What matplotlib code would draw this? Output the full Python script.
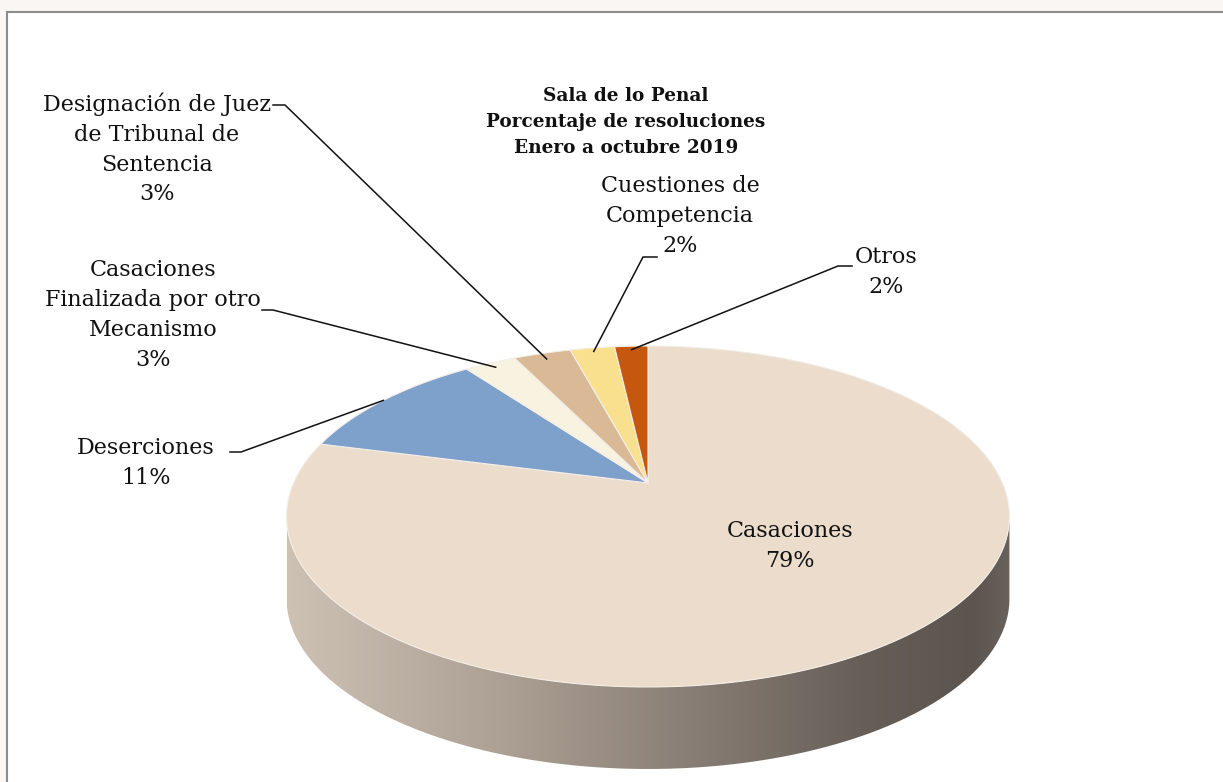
import numpy as np
import matplotlib.pyplot as plt
from matplotlib.patches import Polygon, Rectangle
from matplotlib.colors import LinearSegmentedColormap

# datos del gráfico
categorias = ["Casaciones", "Deserciones", "Casaciones\nFinalizada por otro\nMecanismo",
              "Designación de Juez\nde Tribunal de\nSentencia", "Cuestiones de\nCompetencia", "Otros"]
porcentajes = [79.0, 10.9, 2.8, 3.1, 2.4, 1.8]
colores = ["#ebdccb", "#7da1cb", "#f8f2e0", "#d9b996", "#f8e08e", "#c5570f"]
titulo = "Sala de lo Penal\nPorcentaje de resoluciones\nEnero a octubre 2019"

# geometría (pixeles)
W, H = 1223, 782
CX, CY = 648, 483          # vértice de las porciones
A, B, P = 354.4, 163.9, 0.1965   # semiejes y factor de perspectiva
DEPTH = 82

# posición de etiquetas y tramo horizontal de las líneas guía
pos_etiquetas = [(790, 546), (146, 463), (153, 315), (157, 149), (680, 216), (886, 272)]
guias = [None, [(230, 452), (241, 452)], [(262, 310), (273, 310)],
         [(273, 105), (285, 105)], [(657, 257), (643, 257)], [(852, 266), (838, 266)]]
radio_guia = [None, 1.0, 0.96, 0.95, 0.97, 0.97]

plt.rcParams['font.family'] = ['DejaVu Serif']


def proyectar(u, v):
    w = 1 + P * v
    return CX + A * u / w, CY - B * v / w


def punto(frac, r=1.0):
    th = 2 * np.pi * frac
    return proyectar(r * np.sin(th), r * np.cos(th))


fig = plt.figure(figsize=(W / 100, H / 100), dpi=100, facecolor="#f9f6f3")
ax = fig.add_axes([0, 0, 1, 1])
ax.set_facecolor("#f9f6f3")

# marco blanco
ax.add_patch(Rectangle((7, 12), W, H, facecolor="white", edgecolor="#8c8c8c", lw=1.5, zorder=0))

# lateral del cilindro (solo visible la parte frontal)
t1 = np.pi + np.arcsin(P)
t2 = 2 * np.pi - np.arcsin(P)
t = np.linspace(t1, t2, 300)
xs, ys = proyectar(np.cos(t), np.sin(t))
lado = np.column_stack([np.concatenate([xs, xs[::-1]]),
                        np.concatenate([ys, ys[::-1] + DEPTH])])
poly = Polygon(lado, closed=True, facecolor="none", edgecolor="none")
ax.add_patch(poly)
cmap = LinearSegmentedColormap.from_list("lado", [(0, "#cdc1b4"), (0.3, "#aca094"), (0.55, "#8a7f76"),
                                                  (0.8, "#665e57"), (0.95, "#5c554f"), (1, "#69615b")])
grad = np.linspace(0, 1, 512)[None, :]
img = ax.imshow(grad, cmap=cmap, extent=[xs.min(), xs.max(), ys.max() + DEPTH, ys.min()],
                aspect="auto", zorder=1)
img.set_clip_path(poly)

# porciones superiores
fr = np.array(porcentajes) / sum(porcentajes)
acum = np.concatenate([[0], np.cumsum(fr)])
for i, col in enumerate(colores):
    f = np.linspace(acum[i], acum[i + 1], 200)
    px, py = punto(f)
    verts = np.column_stack([np.concatenate([[CX], px]), np.concatenate([[CY], py])])
    ax.add_patch(Polygon(verts, closed=True, facecolor=col, edgecolor="#f3eee8", lw=0.8, zorder=2))

# etiquetas y líneas guía
for i, nombre in enumerate(categorias):
    texto = f"{nombre}\n{round(porcentajes[i]):.0f}%"
    x, y = pos_etiquetas[i]
    ax.text(x, y, texto, ha="center", va="center", fontsize=16, color="#111111",
            linespacing=1.46, zorder=4)
    if guias[i] is not None:
        ax_, ay_ = punto((acum[i] + acum[i + 1]) / 2, radio_guia[i])
        gx = [p[0] for p in guias[i]] + [ax_]
        gy = [p[1] for p in guias[i]] + [ay_]
        ax.plot(gx, gy, color="#111111", lw=1.1, zorder=3)

ax.text(626, 122, titulo, ha="center", va="center", fontsize=13.3, fontweight="bold",
        color="#111111", linespacing=1.55, zorder=4)

ax.set_xlim(0, W)
ax.set_ylim(H, 0)
ax.axis("off")

fig.savefig("out.png", dpi=100, facecolor=fig.get_facecolor())
